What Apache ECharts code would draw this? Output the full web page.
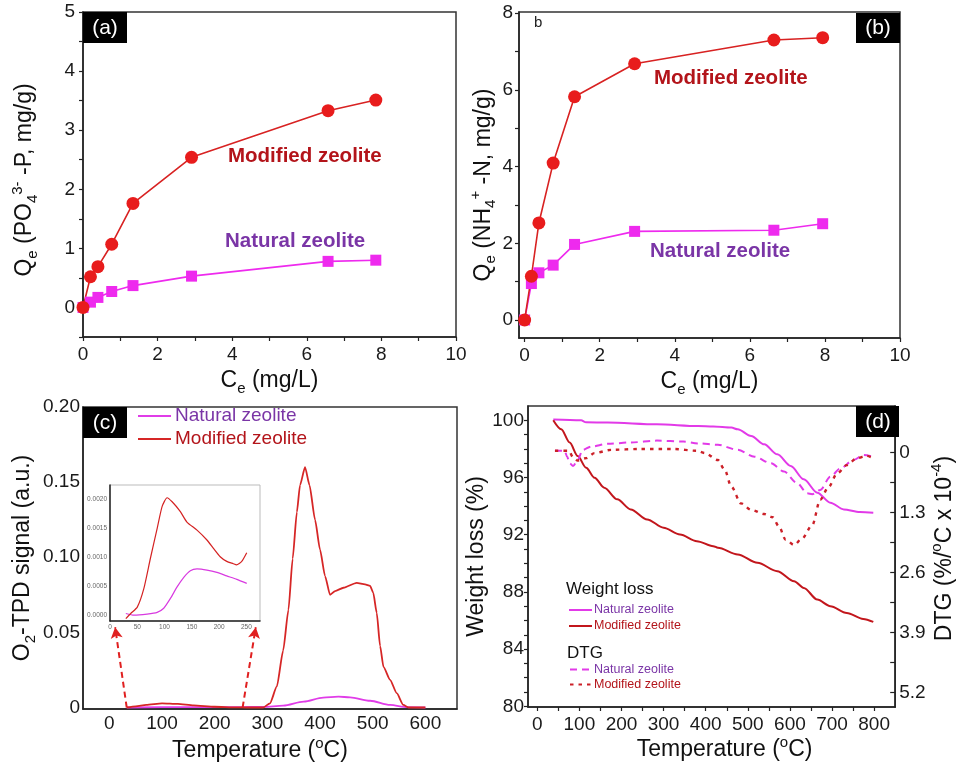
<!DOCTYPE html>
<html><head><meta charset="utf-8">
<script src="https://cdn.jsdelivr.net/npm/echarts@6/dist/echarts.min.js"></script>
<style>html,body{margin:0;padding:0;background:#fff}#c{width:957px;height:771px}</style>
</head><body><div id="c"></div>
<script>
// ---------- (a) phosphate isotherm ----------
const aCe = [0, 0.2, 0.4, 0.77, 1.34, 2.91, 6.57, 7.85];
const aModified = [0, 0.52, 0.69, 1.07, 1.76, 2.54, 3.33, 3.51];
const aNatural = [0, 0.09, 0.17, 0.27, 0.37, 0.53, 0.78, 0.80];
const aXLabels = [0, 2, 4, 6, 8, 10];
const aYLabels = [0, 1, 2, 3, 4, 5];
// ---------- (b) ammonium isotherm ----------
const bCe = [0, 0.18, 0.38, 0.76, 1.33, 2.93, 6.64, 7.94];
const bModified = [0, 1.14, 2.53, 4.09, 5.82, 6.68, 7.30, 7.36];
const bNatural = [0, 0.95, 1.23, 1.43, 1.97, 2.31, 2.34, 2.51];
const bXLabels = [0, 2, 4, 6, 8, 10];
const bYLabels = [0, 2, 4, 6, 8];
// ---------- (c) O2-TPD ----------
const cTempMod = [33, 50, 70, 100, 130, 160, 200, 240, 260, 292, 305, 318, 330, 340, 348, 356, 362, 371.5, 380, 390.5, 400, 409.5, 419, 428.5, 444.5, 469.6, 485.4, 495, 501, 507.6, 514, 520.4, 533, 545.6, 558, 568, 600];
const cModified = [0, 0.0008, 0.0018, 0.0028, 0.0024, 0.0014, 0.0005, 0.0001, 0, 0, 0.0028, 0.014, 0.038, 0.065, 0.099, 0.130, 0.148, 0.160, 0.148, 0.125, 0.105, 0.0875, 0.075, 0.0775, 0.0797, 0.083, 0.082, 0.081, 0.0764, 0.063, 0.041, 0.027, 0.0184, 0.0095, 0.0017, 0, 0];
const cTempNat = [33, 150, 250, 292, 330, 369, 406, 435, 457, 495, 533, 565, 600];
const cNatural = [0, 0.0003, 0.0003, 0.0004, 0.0012, 0.0039, 0.0066, 0.0072, 0.0068, 0.0045, 0.0017, 0.0002, 0];
const cXLabels = [0, 100, 200, 300, 400, 500, 600];
const cYLabels = [0, 0.05, 0.10, 0.15, 0.20];
// inset of (c)
const iTempMod = [29, 38, 50, 62, 74, 86.5, 95.6, 104.7, 113.9, 129, 141, 159.5, 177.7, 190, 202, 214, 226, 232, 241.5, 250.7];
const iModified = [-0.00006, 0.00003, 0.00014, 0.00046, 0.00098, 0.0015, 0.00188, 0.00203, 0.00196, 0.00179, 0.00161, 0.00147, 0.0013, 0.00115, 0.00101, 0.00093, 0.00089, 0.00087, 0.00093, 0.00108];
const iTempNat = [29, 44, 68, 86.5, 98.5, 110.8, 123, 135.6, 147.3, 159.5, 177.7, 196, 214, 232.5, 250.7];
const iNatural = [0.00003, 0, 0.00002, 0.00005, 0.00012, 0.00029, 0.00049, 0.00066, 0.00077, 0.0008, 0.00078, 0.00074, 0.00068, 0.00062, 0.00055];
const iXLabels = [0, 50, 100, 150, 200, 250];
const iYLabels = [0, 0.0005, 0.0010, 0.0015, 0.0020];
// ---------- (d) TGA / DTG ----------
const dTempNatW = [38, 104, 116, 167, 284, 382, 418, 461, 476, 508, 539, 570, 602, 633, 665, 696, 728, 766, 798];
const dNaturalW = [100.05, 100.0, 99.86, 99.84, 99.72, 99.6, 99.56, 99.49, 99.37, 98.9, 98.32, 97.62, 96.8, 95.87, 94.94, 94.24, 93.77, 93.58, 93.54];
const dTempModW = [38, 57, 77, 96, 116, 136, 159, 190, 222, 261, 300, 339, 379, 418, 429, 476, 523, 570, 610, 633, 665, 696, 735, 774, 798];
const dModifiedW = [100, 99.37, 98.44, 97.5, 96.69, 95.99, 95.29, 94.47, 93.77, 93.07, 92.49, 92.02, 91.55, 91.2, 91.08, 90.62, 90.03, 89.45, 88.75, 88.28, 87.46, 87.0, 86.53, 86.11, 85.9];
const dTempNatD = [42, 65, 71, 77, 85, 96, 108, 128, 167, 222, 284, 347, 382, 429, 476, 516, 555, 586, 617, 641, 653, 672, 696, 720, 751, 775, 798];
const dNaturalD = [-0.04, -0.04, 0.09, 0.23, 0.29, 0.16, -0.06, -0.13, -0.19, -0.22, -0.26, -0.24, -0.2, -0.17, -0.06, 0.09, 0.23, 0.41, 0.66, 0.88, 0.9, 0.81, 0.52, 0.34, 0.16, 0.05, 0.09];
const dTempModD = [42, 75, 85, 96, 116, 136, 175, 245, 324, 379, 398, 429, 445, 461, 484, 508, 539, 559, 574, 590, 610, 629, 653, 672, 692, 712, 735, 759, 782, 798];
const dModifiedD = [-0.04, -0.04, 0.1, 0.17, 0.12, 0.01, -0.06, -0.08, -0.08, -0.04, 0.01, 0.16, 0.37, 0.74, 1.1, 1.24, 1.33, 1.4, 1.6, 1.89, 2.0, 1.86, 1.57, 1.02, 0.74, 0.45, 0.27, 0.12, 0.07, 0.12];
const dXLabels = [0, 100, 200, 300, 400, 500, 600, 700, 800];
const dYLabels = [80, 84, 88, 92, 96, 100];
const dDtgLabels = [0, 1.3, 2.6, 3.9, 5.2];

const FONT = '"Liberation Sans", Arial, Helvetica, sans-serif';
const RED = '#e81c1c', REDLINE = '#d82222', MAG = '#ee2aee';
const LBL_RED = '#b3141a', LBL_PUR = '#7a35a6';
const zip = (xs, ys) => xs.map((x, i) => [x, ys[i]]);
const steps = (a, b, s) => { const r = []; for (let v = a; v <= b + 1e-9; v += s) r.push(+v.toFixed(6)); return r; };

const RICH = {
  t: {fontSize: 23, fontFamily: FONT, color: '#111', lineHeight: 30},
  s: {fontSize: 15, fontFamily: FONT, color: '#111', lineHeight: 17, verticalAlign: 'bottom'},
  p: {fontSize: 15, fontFamily: FONT, color: '#111', lineHeight: 17, verticalAlign: 'top'}
};

function axis(o) {
  return {
    type: 'value', gridIndex: o.grid, min: o.min, max: o.max, inverse: !!o.inverse,
    position: o.position,
    name: o.name || '', nameLocation: 'middle', nameGap: o.nameGap || 30,
    nameTextStyle: {fontSize: 23, fontFamily: FONT, color: '#111', rich: RICH, padding: o.namePad || 0},
    axisLine: {show: true, onZero: false, lineStyle: {color: '#222', width: 1.5}},
    axisTick: {show: o.ticks !== null, inside: !!o.inside, length: o.tickLen || 4,
      customValues: o.ticks || undefined, lineStyle: {color: '#222', width: 1.2}},
    axisLabel: {customValues: o.labels, fontSize: o.fs || 19, color: o.lc || '#1a1a1a', fontFamily: FONT,
      margin: o.margin || 6, formatter: o.fmt},
    splitLine: {show: false}
  };
}

const chart = echarts.init(document.getElementById('c'));
const option = {
  animation: false,
  backgroundColor: '#fff',
  grid: [
    {left: 83, top: 12, width: 373, height: 325, show: true, borderColor: '#333', borderWidth: 1.5},
    {left: 519, top: 12, width: 381, height: 326, show: true, borderColor: '#333', borderWidth: 1.5},
    {left: 83, top: 407, width: 374, height: 302, show: true, borderColor: '#333', borderWidth: 1.5},
    {left: 528, top: 406, width: 371, height: 301, show: true, borderColor: '#333', borderWidth: 1.5},
    {left: 110, top: 485, width: 150, height: 136, show: true, borderColor: '#bbb', borderWidth: 1, backgroundColor: '#fff'}
  ],
  xAxis: [
    axis({grid: 0, min: 0, max: 10, labels: aXLabels, ticks: steps(0, 10, 1), margin: 8,
      name: '{t|C}{s|e}{t| (mg/L)}', nameGap: 29}),
    axis({grid: 1, min: -0.15, max: 10, labels: bXLabels, ticks: steps(0, 10, 1), margin: 8,
      name: '{t|C}{s|e}{t| (mg/L)}', nameGap: 29}),
    axis({grid: 2, min: -50, max: 660, labels: cXLabels, ticks: null, margin: 5,
      name: '{t|Temperature (}{p|o}{t|C)}', nameGap: 27, namePad: [0, 20, 0, 0]}),
    axis({grid: 3, min: -22, max: 850, labels: dXLabels, ticks: steps(0, 800, 50), margin: 8,
      name: '{t|Temperature (}{p|o}{t|C)}', nameGap: 28, namePad: [0, 0, 0, 26]}),
    axis({grid: 4, min: 0, max: 275, labels: iXLabels, ticks: null, fs: 6.5, lc: '#666', margin: 3})
  ],
  yAxis: [
    axis({grid: 0, min: -0.5, max: 5, labels: aYLabels, ticks: steps(-0.5, 5, 0.5), margin: 8,
      name: '{t|Q}{s|e}{t| (PO}{s|4}{p|3-}{t| -P, mg/g)}', nameGap: 43, namePad: [0, 11, 0, 0]}),
    axis({grid: 1, min: -0.47, max: 8.03, labels: bYLabels, ticks: steps(0, 8, 1), margin: 6,
      name: '{t|Q}{s|e}{t| (NH}{s|4}{p|+}{t| -N, mg/g)}', nameGap: 13, namePad: [0, 20, 0, 0]}),
    axis({grid: 2, min: -0.001, max: 0.2, labels: cYLabels, ticks: null, margin: 3,
      fmt: v => v === 0 ? '0' : v.toFixed(2),
      name: '{t|O}{s|2}{t|-TPD signal (a.u.)}', nameGap: 45}),
    axis({grid: 3, min: 79.95, max: 101, labels: dYLabels, ticks: steps(80, 100, 1), margin: 4,
      name: '{t|Weight loss (%)}', nameGap: 25}),
    axis({grid: 3, min: -1.01, max: 5.51, inverse: true, position: 'right', labels: dDtgLabels,
      ticks: steps(0, 5.2, 0.65), inside: true, tickLen: 5, margin: 4,
      fmt: v => v === 0 ? '0' : v.toFixed(1),
      name: '{t|DTG (%/}{p|o}{t|C x 10}{p|-4}{t|)}', nameGap: 34, namePad: [0, 0, 0, 16]}),
    axis({grid: 4, min: -0.0001, max: 0.00225, labels: iYLabels, ticks: null, fs: 6.5, lc: '#666', margin: 3,
      fmt: v => v.toFixed(4)})
  ],
  legend: [
    {left: 137, top: 405, orient: 'vertical', padding: 0, itemGap: 1, itemWidth: 33, itemHeight: 14,
      selectedMode: false, itemStyle: {opacity: 0, borderWidth: 0},
      data: [{name: 'cNat', textStyle: {color: LBL_PUR}}, {name: 'cMod', textStyle: {color: LBL_RED}}],
      formatter: n => n === 'cNat' ? 'Natural zeolite' : 'Modified zeolite',
      textStyle: {fontSize: 19, fontFamily: FONT, lineHeight: 22, padding: [0, 0, 0, -1]}},
    {left: 568, top: 602, orient: 'vertical', padding: 0, itemGap: 0, itemWidth: 23, itemHeight: 14,
      selectedMode: false, itemStyle: {opacity: 0, borderWidth: 0},
      data: [{name: 'dNatW', textStyle: {color: LBL_PUR}}, {name: 'dModW', textStyle: {color: LBL_RED}}],
      formatter: n => n === 'dNatW' ? 'Natural zeolite' : 'Modified zeolite',
      textStyle: {fontSize: 12.5, fontFamily: FONT, lineHeight: 16, padding: [0, 0, 0, -3]}},
    {left: 569, top: 662, orient: 'vertical', padding: 0, itemGap: 0, itemWidth: 22, itemHeight: 14,
      selectedMode: false, itemStyle: {opacity: 0, borderWidth: 0},
      data: [{name: 'dNatD', textStyle: {color: LBL_PUR}}, {name: 'dModD', textStyle: {color: LBL_RED}}],
      formatter: n => n === 'dNatD' ? 'Natural zeolite' : 'Modified zeolite',
      textStyle: {fontSize: 12.5, fontFamily: FONT, lineHeight: 15, padding: [0, 0, 0, -3]}}
  ],
  series: [
    {name: 'aNat', type: 'line', xAxisIndex: 0, yAxisIndex: 0, data: zip(aCe, aNatural),
      symbol: 'rect', symbolSize: 11, itemStyle: {color: MAG}, lineStyle: {color: MAG, width: 1.6}},
    {name: 'aMod', type: 'line', xAxisIndex: 0, yAxisIndex: 0, data: zip(aCe, aModified),
      symbol: 'circle', symbolSize: 13, itemStyle: {color: RED}, lineStyle: {color: REDLINE, width: 1.6}},
    {name: 'bNat', type: 'line', xAxisIndex: 1, yAxisIndex: 1, data: zip(bCe, bNatural),
      symbol: 'rect', symbolSize: 11, itemStyle: {color: MAG}, lineStyle: {color: MAG, width: 1.6}},
    {name: 'bMod', type: 'line', xAxisIndex: 1, yAxisIndex: 1, data: zip(bCe, bModified),
      symbol: 'circle', symbolSize: 13, itemStyle: {color: RED}, lineStyle: {color: REDLINE, width: 1.6}},
    {name: 'cNat', type: 'line', xAxisIndex: 2, yAxisIndex: 2, data: zip(cTempNat, cNatural),
      symbol: 'none', smooth: 0.3, smoothMonotone: 'x', itemStyle: {color: '#e03ce8'}, lineStyle: {color: '#e03ce8', width: 1.8}},
    {name: 'cMod', type: 'line', xAxisIndex: 2, yAxisIndex: 2, data: zip(cTempMod, cModified),
      symbol: 'none', smooth: 0.2, smoothMonotone: 'x', itemStyle: {color: '#d62626'}, lineStyle: {color: '#d62626', width: 1.8},
      markLine: {silent: true, symbol: ['none', 'arrow'], symbolSize: [9, 11],
        lineStyle: {color: '#e02020', type: [6, 4], width: 2}, label: {show: false},
        data: [[{coord: [33, 0]}, {coord: [11, 0.0534]}], [{coord: [253, 0]}, {coord: [278, 0.0534]}]]}},
    {name: 'iNat', type: 'line', xAxisIndex: 4, yAxisIndex: 5, data: zip(iTempNat, iNatural),
      symbol: 'none', smooth: 0.2, itemStyle: {color: '#d83ae0'}, lineStyle: {color: '#d83ae0', width: 1.2}},
    {name: 'iMod', type: 'line', xAxisIndex: 4, yAxisIndex: 5, data: zip(iTempMod, iModified),
      symbol: 'none', smooth: 0.2, itemStyle: {color: '#d42222'}, lineStyle: {color: '#d42222', width: 1.2}},
    {name: 'dNatW', type: 'line', xAxisIndex: 3, yAxisIndex: 3, data: zip(dTempNatW, dNaturalW),
      symbol: 'none', smooth: 0.3, smoothMonotone: 'x', itemStyle: {color: '#e23ae8'}, lineStyle: {color: '#e23ae8', width: 2}},
    {name: 'dModW', type: 'line', xAxisIndex: 3, yAxisIndex: 3, data: zip(dTempModW, dModifiedW),
      symbol: 'none', smooth: 0.3, smoothMonotone: 'x', itemStyle: {color: '#c2161c'}, lineStyle: {color: '#c2161c', width: 2}},
    {name: 'dNatD', type: 'line', xAxisIndex: 3, yAxisIndex: 4, data: zip(dTempNatD, dNaturalD),
      symbol: 'none', smooth: 0.3, smoothMonotone: 'x', itemStyle: {color: '#e23ae8'}, lineStyle: {color: '#e23ae8', width: 2, type: [7, 5]}},
    {name: 'dModD', type: 'line', xAxisIndex: 3, yAxisIndex: 4, data: zip(dTempModD, dModifiedD),
      symbol: 'none', smooth: 0.3, smoothMonotone: 'x', itemStyle: {color: '#cc2028'}, lineStyle: {color: '#cc2028', width: 2.4, type: [3.5, 5]}}
  ],
  graphic: [
    {type: 'rect', shape: {x: 83, y: 12, width: 44, height: 31}, style: {fill: '#000'}, z: 50},
    {type: 'text', x: 105, y: 28, style: {text: '(a)', fill: '#fff', fontSize: 21, fontFamily: FONT, align: 'center', verticalAlign: 'middle'}, z: 51},
    {type: 'rect', shape: {x: 856, y: 13, width: 44, height: 30}, style: {fill: '#000'}, z: 50},
    {type: 'text', x: 878, y: 28, style: {text: '(b)', fill: '#fff', fontSize: 21, fontFamily: FONT, align: 'center', verticalAlign: 'middle'}, z: 51},
    {type: 'rect', shape: {x: 83, y: 407, width: 44, height: 31}, style: {fill: '#000'}, z: 50},
    {type: 'text', x: 105, y: 423, style: {text: '(c)', fill: '#fff', fontSize: 21, fontFamily: FONT, align: 'center', verticalAlign: 'middle'}, z: 51},
    {type: 'rect', shape: {x: 856, y: 406, width: 43, height: 31}, style: {fill: '#000'}, z: 50},
    {type: 'text', x: 878, y: 422, style: {text: '(d)', fill: '#fff', fontSize: 21, fontFamily: FONT, align: 'center', verticalAlign: 'middle'}, z: 51},
    {type: 'text', x: 534, y: 23, style: {text: 'b', fill: '#222', fontSize: 15, fontFamily: FONT, verticalAlign: 'middle'}, z: 51},
    {type: 'text', x: 228, y: 156, style: {text: 'Modified zeolite', fill: LBL_RED, fontSize: 20.5, fontWeight: 'bold', fontFamily: FONT, verticalAlign: 'middle'}, z: 51},
    {type: 'text', x: 225, y: 241, style: {text: 'Natural zeolite', fill: LBL_PUR, fontSize: 20.5, fontWeight: 'bold', fontFamily: FONT, verticalAlign: 'middle'}, z: 51},
    {type: 'text', x: 654, y: 78, style: {text: 'Modified zeolite', fill: LBL_RED, fontSize: 20.5, fontWeight: 'bold', fontFamily: FONT, verticalAlign: 'middle'}, z: 51},
    {type: 'text', x: 650, y: 251, style: {text: 'Natural zeolite', fill: LBL_PUR, fontSize: 20.5, fontWeight: 'bold', fontFamily: FONT, verticalAlign: 'middle'}, z: 51},
    {type: 'text', x: 566, y: 589, style: {text: 'Weight loss', fill: '#111', fontSize: 17, fontFamily: FONT, verticalAlign: 'middle'}, z: 51},
    {type: 'text', x: 567, y: 653, style: {text: 'DTG', fill: '#111', fontSize: 17, fontFamily: FONT, verticalAlign: 'middle'}, z: 51}
  ]
};
chart.setOption(option);
</script>
</body></html>
